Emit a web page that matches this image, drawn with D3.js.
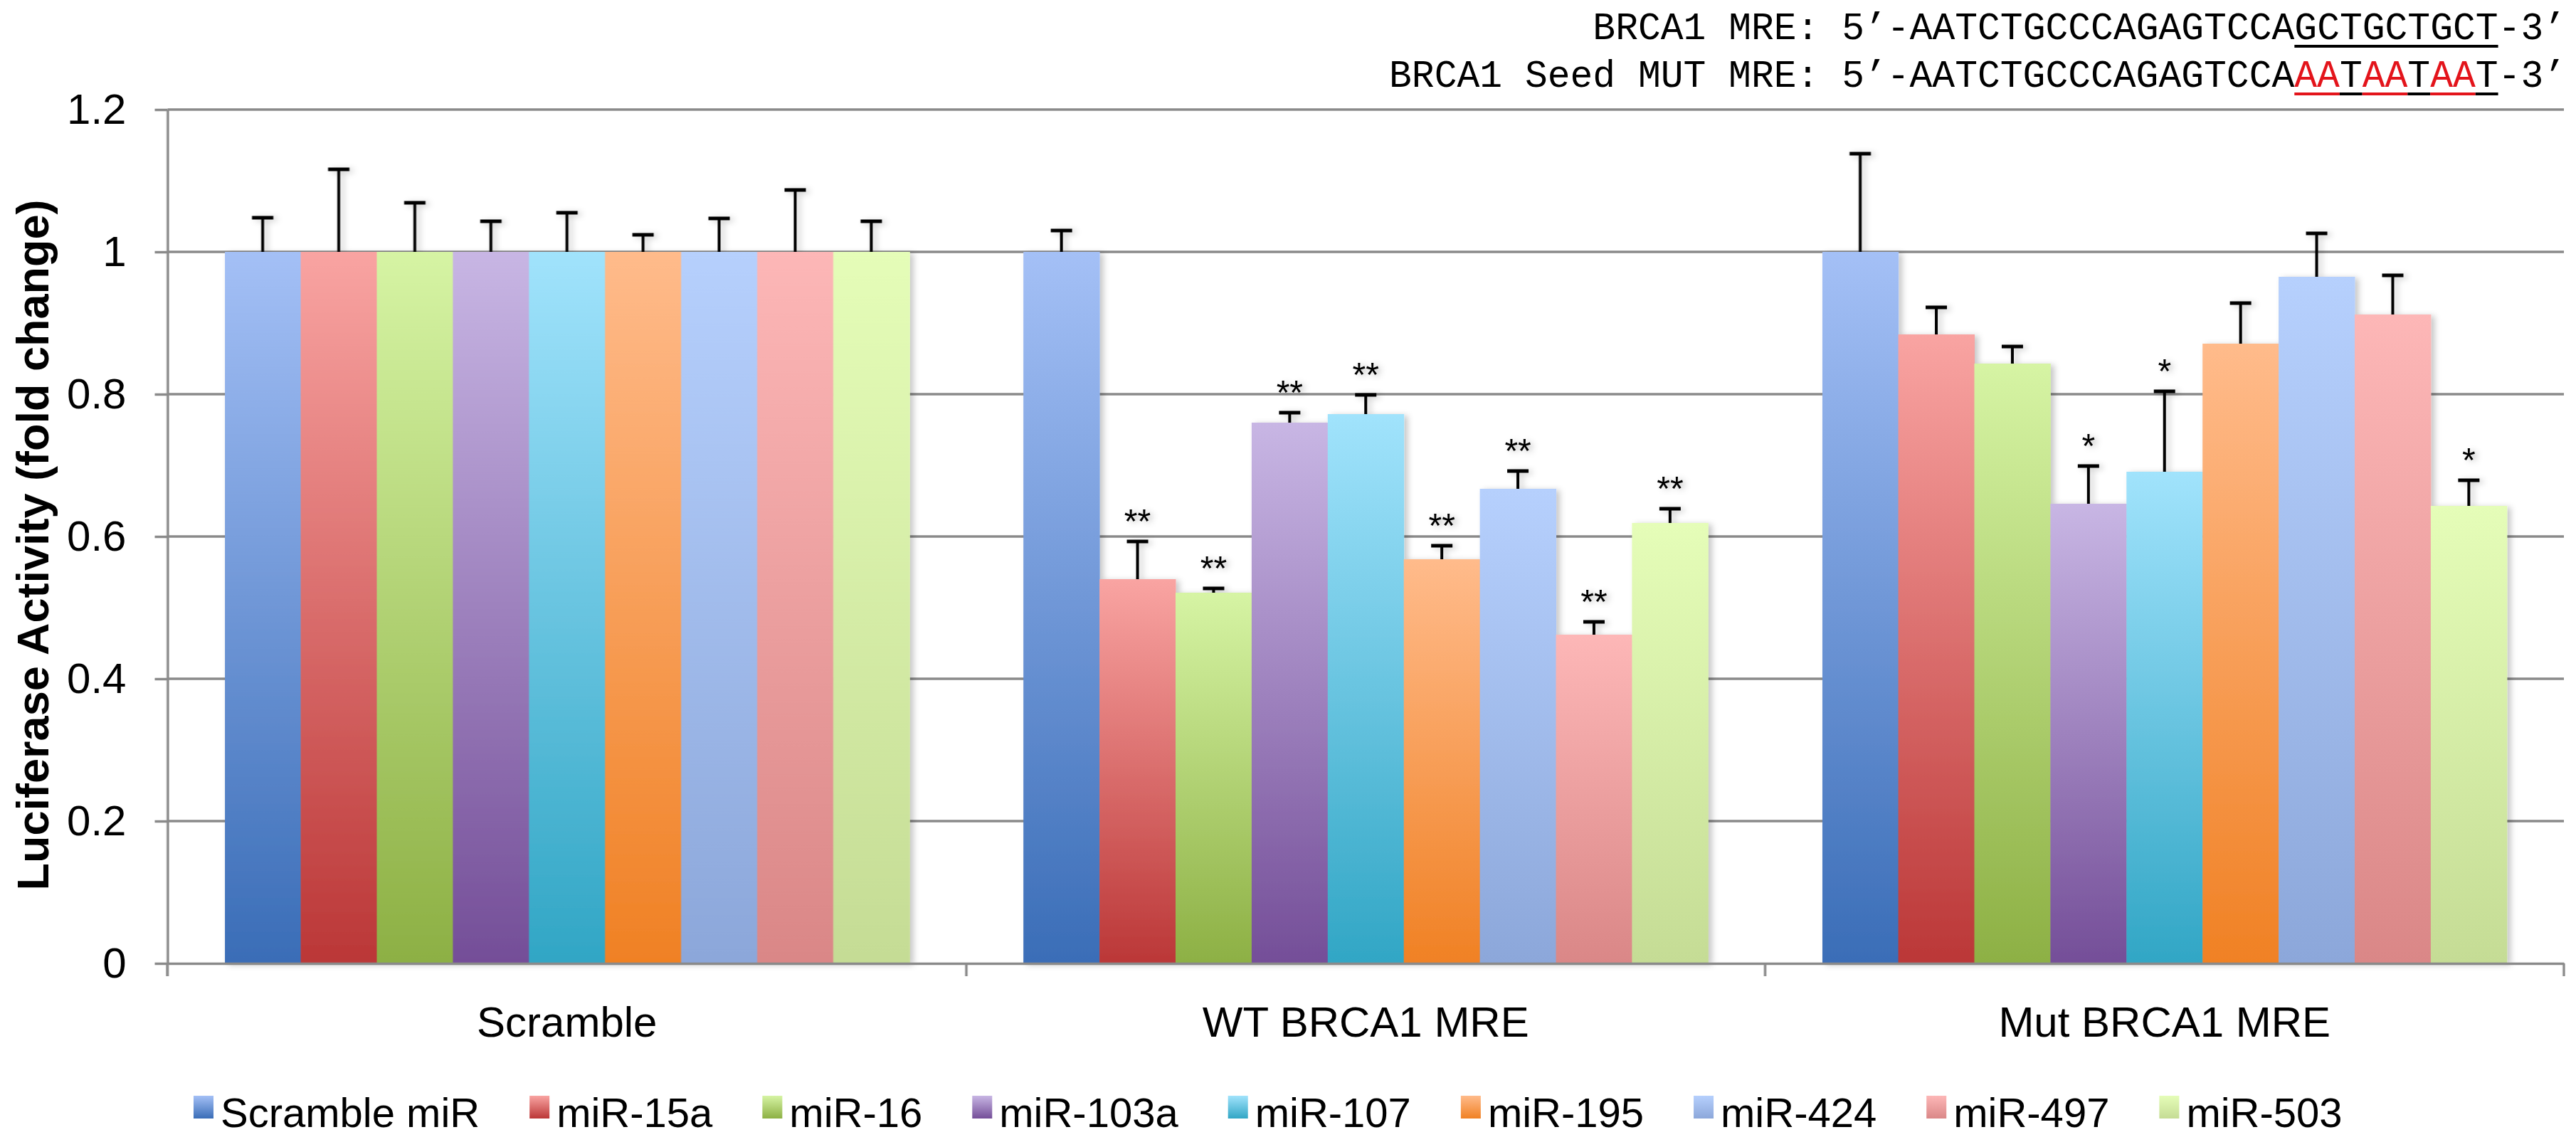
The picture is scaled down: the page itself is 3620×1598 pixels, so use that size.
<!DOCTYPE html>
<html>
<head>
<meta charset="utf-8">
<script src="https://cdn.jsdelivr.net/npm/d3@7"></script>
<style>
    body { margin: 0; background: #ffffff; }
    svg { display: block; font-family: "Liberation Sans", Arial, Helvetica, sans-serif; }
</style>
</head>
<body>
<svg id="drawing_region"></svg>
<script>
// categories and series
const categories = ["Scramble", "WT BRCA1 MRE", "Mut BRCA1 MRE"];
const series = ["Scramble miR", "miR-15a", "miR-16", "miR-103a", "miR-107", "miR-195", "miR-424", "miR-497", "miR-503"];

// luciferase activity (fold change), one array per category
const scrambleValues = [1.0, 1.0, 1.0, 1.0, 1.0, 1.0, 1.0, 1.0, 1.0];
const wtValues       = [1.0, 0.540, 0.521, 0.760, 0.772, 0.568, 0.667, 0.462, 0.619];
const mutValues      = [1.0, 0.884, 0.843, 0.646, 0.691, 0.871, 0.965, 0.912, 0.643];

// upper error bars
const scrambleErrors = [0.048, 0.116, 0.069, 0.043, 0.055, 0.024, 0.047, 0.087, 0.043];
const wtErrors       = [0.030, 0.053, 0.006, 0.014, 0.027, 0.019, 0.025, 0.018, 0.020];
const mutErrors      = [0.138, 0.038, 0.024, 0.053, 0.113, 0.057, 0.061, 0.055, 0.036];

// significance marks
const scrambleStars = ["", "", "", "", "", "", "", "", ""];
const wtStars       = ["", "**", "**", "**", "**", "**", "**", "**", "**"];
const mutStars      = ["", "", "", "*", "*", "", "", "", "*"];

const yTicks = [0, 0.2, 0.4, 0.6, 0.8, 1.0, 1.2];

// gradient colours (top, bottom) per series
const colorTop    = ["#a4c0f6", "#f9a4a2", "#d6f4a4", "#c8b6e4", "#a1e3fc", "#ffbb8b", "#b6d0fd", "#fdb7b7", "#e5fdb8"];
const colorBottom = ["#3a6db7", "#bb3737", "#8db044", "#744e98", "#31a6c5", "#f08124", "#8ca7da", "#da8787", "#c5dc95"];

// sequence annotation
const mreLabel = "BRCA1 MRE: 5\u2019-AATCTGCCCAGAGTCCA";
const mreSeed = [["GCTGCTGCT", "#000000"]];
const mutLabel = "BRCA1 Seed MUT MRE: 5\u2019-AATCTGCCCAGAGTCCA";
const mutSeed = [["AA", "#e3141b"], ["T", "#000000"], ["AA", "#e3141b"], ["T", "#000000"], ["AA", "#e3141b"], ["T", "#000000"]];
const seqEnd = "-3\u2019";

const groupValues = [scrambleValues, wtValues, mutValues];
const groupErrors = [scrambleErrors, wtErrors, mutErrors];
const groupStars  = [scrambleStars, wtStars, mutStars];

const config = {
    width: 3620,
    height: 1598,
    margin: {top: 154, right: 17, bottom: 244, left: 235.5}
};

const svg = d3.select('#drawing_region')
    .attr('width', config.width)
    .attr('height', config.height);

const inner_width = config.width - config.margin.left - config.margin.right;
const inner_height = config.height - config.margin.top - config.margin.bottom;

const chart = svg.append('g')
    .attr('transform', `translate(${config.margin.left}, ${config.margin.top})`);

const xscale = d3.scaleBand()
    .domain(categories)
    .range([0, inner_width])
    .padding(0);

const xinner = d3.scaleBand()
    .domain(series)
    .range([0, xscale.bandwidth()])
    .paddingInner(0)
    .paddingOuter(0.75);

const yscale = d3.scaleLinear()
    .domain([0, 1.2])
    .range([inner_height, 0]);

// gradients and shadow
const defs = svg.append('defs');
series.forEach((s, j) => {
    const g = defs.append('linearGradient')
        .attr('id', `grad${j}`)
        .attr('x1', 0).attr('y1', 0).attr('x2', 0).attr('y2', 1);
    g.append('stop').attr('offset', '0%').attr('stop-color', colorTop[j]);
    g.append('stop').attr('offset', '100%').attr('stop-color', colorBottom[j]);
});
const shadow = defs.append('filter')
    .attr('id', 'shadow')
    .attr('x', '-10%').attr('y', '-10%').attr('width', '130%').attr('height', '120%');
shadow.append('feDropShadow')
    .attr('dx', 5).attr('dy', 2)
    .attr('stdDeviation', 4)
    .attr('flood-color', '#000')
    .attr('flood-opacity', 0.22);

// gridlines
chart.append('g')
    .selectAll('line')
    .data(yTicks.filter(d => d > 0))
    .join('line')
    .attr('x1', 0)
    .attr('x2', inner_width)
    .attr('y1', d => yscale(d))
    .attr('y2', d => yscale(d))
    .attr('stroke', '#8a8a8a')
    .attr('stroke-width', 3.5);

// bars
const data = categories.flatMap((c, i) => series.map((s, j) => ({
    category: c,
    series: s,
    index: j,
    value: groupValues[i][j],
    err: groupErrors[i][j],
    star: groupStars[i][j]
})));

const groups = chart.append('g')
    .selectAll('g')
    .data(categories)
    .join('g')
    .attr('filter', 'url(#shadow)')
    .attr('transform', d => `translate(${xscale(d)}, 0)`);

groups.selectAll('rect')
    .data(c => data.filter(d => d.category === c))
    .join('rect')
    .attr('x', d => xinner(d.series))
    .attr('y', d => yscale(d.value))
    .attr('width', xinner.bandwidth() + 0.5)
    .attr('height', d => yscale(0) - yscale(d.value))
    .attr('fill', d => `url(#grad${d.index})`);

// x axis (labels)
const xaxis_group = chart.append('g')
    .attr('transform', `translate(0, ${inner_height})`)
    .call(d3.axisBottom(xscale).tickSize(0).tickPadding(60));
xaxis_group.select('.domain')
    .attr('stroke', '#8a8a8a')
    .attr('stroke-width', 3.5);
xaxis_group.selectAll('text')
    .attr('font-size', 60)
    .attr('font-family', '"Liberation Sans", Arial, sans-serif')
    .attr('fill', '#000');

// category boundary ticks
const bounds = [0].concat(categories.map(c => xscale(c) + xscale.bandwidth()));
xaxis_group.selectAll('line.bound')
    .data(bounds)
    .join('line')
    .attr('class', 'bound')
    .attr('x1', d => d).attr('x2', d => d)
    .attr('y1', 0).attr('y2', 18)
    .attr('stroke', '#8a8a8a')
    .attr('stroke-width', 3.5);

// y axis
const yaxis_group = chart.append('g')
    .call(d3.axisLeft(yscale)
        .tickValues(yTicks)
        .tickFormat(d3.format('.1~f'))
        .tickSize(18)
        .tickSizeOuter(0)
        .tickPadding(40));
yaxis_group.selectAll('.domain, .tick line')
    .attr('stroke', '#8a8a8a')
    .attr('stroke-width', 3.5);
yaxis_group.selectAll('text')
    .attr('font-size', 60)
    .attr('font-family', '"Liberation Sans", Arial, sans-serif')
    .attr('fill', '#000');

// error bars
const errs = groups.selectAll('g.err')
    .data(c => data.filter(d => d.category === c))
    .join('g')
    .attr('class', 'err')
    .attr('transform', d => `translate(${xinner(d.series) + xinner.bandwidth() / 2}, 0)`);

errs.append('line')
    .attr('x1', 0).attr('x2', 0)
    .attr('y1', d => yscale(d.value))
    .attr('y2', d => yscale(d.value + d.err))
    .attr('stroke', '#000')
    .attr('stroke-width', 4);

errs.append('line')
    .attr('x1', -15).attr('x2', 15)
    .attr('y1', d => yscale(d.value + d.err))
    .attr('y2', d => yscale(d.value + d.err))
    .attr('stroke', '#000')
    .attr('stroke-width', 5);

errs.append('text')
    .attr('x', 0)
    .attr('y', d => yscale(d.value + d.err) - 12)
    .attr('text-anchor', 'middle')
    .attr('font-size', 48)
    .attr('fill', '#000')
    .text(d => d.star);

// y axis title
svg.append('text')
    .attr('transform', `translate(68, ${config.margin.top + inner_height / 2 + 12}) rotate(-90)`)
    .attr('text-anchor', 'middle')
    .attr('font-size', 63)
    .attr('font-weight', 'bold')
    .attr('fill', '#000')
    .text('Luciferase Activity (fold change)');

// legend
const legend = svg.append('g')
    .attr('transform', 'translate(272, 1540)');
let lx = 0;
series.forEach((s, j) => {
    const item = legend.append('g').attr('transform', `translate(${lx}, 0)`);
    item.append('rect')
        .attr('width', 28)
        .attr('height', 32)
        .attr('fill', `url(#grad${j})`);
    const t = item.append('text')
        .attr('x', 38)
        .attr('y', 44)
        .attr('font-size', 58)
        .attr('fill', '#000')
        .text(s);
    lx += 38 + t.node().getComputedTextLength() + 70;
});

// sequence annotation
function seqLine(label, seed, baseline) {
    const t = svg.append('text')
        .attr('x', 3606)
        .attr('y', baseline)
        .attr('text-anchor', 'end')
        .attr('font-family', '"Liberation Mono", "DejaVu Sans Mono", monospace')
        .attr('font-size', 53)
        .attr('fill', '#000');
    t.append('tspan').text(label);
    seed.forEach(([chunk, col]) => t.append('tspan').attr('fill', col).text(chunk));
    t.append('tspan').text(seqEnd);

    // underline the seed region, chunk by chunk in matching colour
    const node = t.node();
    let pos = label.length;
    seed.forEach(([chunk, col]) => {
        const x1 = node.getStartPositionOfChar(pos).x;
        const x2 = node.getEndPositionOfChar(pos + chunk.length - 1).x;
        svg.append('line')
            .attr('x1', x1).attr('x2', x2)
            .attr('y1', baseline + 10).attr('y2', baseline + 10)
            .attr('stroke', col)
            .attr('stroke-width', 4);
        pos += chunk.length;
    });
}
seqLine(mreLabel, mreSeed, 55);
seqLine(mutLabel, mutSeed, 122);
</script>
</body>
</html>
